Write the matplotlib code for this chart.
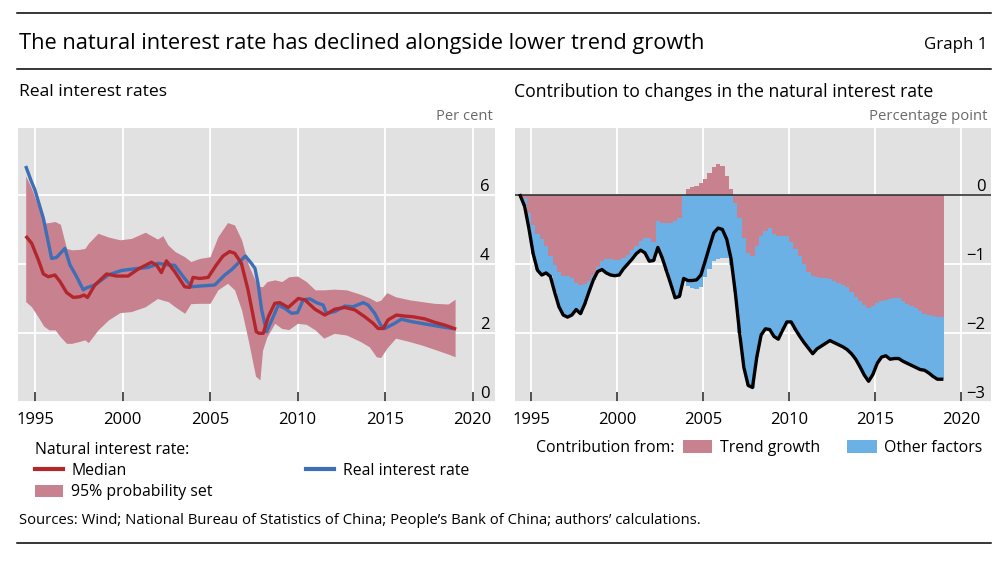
import numpy as np
import pandas as pd
import matplotlib
matplotlib.use("Agg")
import matplotlib.pyplot as plt
from matplotlib.lines import Line2D
from matplotlib.patches import Patch

plt.rcParams['font.family'] = ['Open Sans', 'DejaVu Sans']

# ---------------- Left panel data: real interest rates (per cent) ----------------
real_t = [1994.47, 1994.75, 1995.0, 1995.48, 1995.95, 1996.23, 1996.71, 1997.0, 1997.38,
          1997.76, 1997.95, 1998.42, 1999.18, 1999.94, 2000.7, 2001.46, 2001.75, 2002.03,
          2002.5, 2002.98, 2003.55, 2003.94, 2004.7, 2005.27, 2005.84, 2006.22, 2006.6,
          2007.02, 2007.36, 2007.57, 2007.74, 2007.95, 2008.23, 2008.61, 2008.9, 2009.28,
          2009.66, 2010.0, 2010.32, 2010.7, 2011.08, 2011.46, 2011.65, 2012.13, 2012.7,
          2013.17, 2013.75, 2014.03, 2014.41, 2014.75, 2014.98, 2015.55, 2015.93, 2016.5,
          2017.07, 2017.64, 2018.21, 2018.97]
real_rate = [6.84, 6.45, 6.14, 5.32, 4.16, 4.19, 4.45, 3.97, 3.63,
             3.25, 3.31, 3.39, 3.68, 3.81, 3.86, 3.90, 3.95, 4.02,
             3.98, 3.96, 3.58, 3.34, 3.37, 3.39, 3.68, 3.83, 4.02,
             4.23, 4.02, 3.87, 3.44, 2.67, 2.04, 2.47, 2.81, 2.71,
             2.57, 2.59, 2.96, 2.99, 2.88, 2.81, 2.57, 2.62, 2.78,
             2.76, 2.88, 2.81, 2.57, 2.23, 2.13, 2.28, 2.40, 2.33,
             2.28, 2.23, 2.18, 2.12]

median_t = [1994.47, 1994.81, 1995.19, 1995.48, 1995.76, 1996.14, 1996.43, 1996.81, 1997.19,
            1997.57, 1997.8, 1998.0, 1998.42, 1999.09, 1999.66, 2000.32, 2000.89, 2001.65,
            2001.94, 2002.22, 2002.51, 2002.98, 2003.55, 2003.84, 2004.03, 2004.41, 2004.89,
            2005.36, 2005.74, 2006.12, 2006.41, 2006.79, 2007.17, 2007.64, 2007.8, 2008.04,
            2008.33, 2008.7, 2008.98, 2009.47, 2010.04, 2010.42, 2010.99, 2011.56, 2012.13,
            2012.7, 2013.27, 2013.84, 2014.32, 2014.6, 2014.89, 2015.17, 2015.65, 2016.12,
            2016.6, 2017.26, 2017.83, 2018.4, 2019.06]
median = [4.81, 4.60, 4.12, 3.71, 3.63, 3.68, 3.49, 3.17, 3.03,
          3.05, 3.10, 3.03, 3.39, 3.71, 3.65, 3.65, 3.85, 4.05,
          3.97, 3.75, 4.09, 3.78, 3.34, 3.32, 3.61, 3.58, 3.61,
          3.97, 4.23, 4.36, 4.31, 4.02, 3.25, 2.04, 1.99, 1.99,
          2.47, 2.86, 2.88, 2.74, 3.00, 2.96, 2.69, 2.52, 2.69,
          2.74, 2.67, 2.47, 2.28, 2.13, 2.13, 2.38, 2.52, 2.49,
          2.47, 2.41, 2.31, 2.23, 2.11]

band_t = [1994.47, 1994.8, 1995.2, 1995.5, 1995.8, 1996.15, 1996.45, 1996.8, 1997.1, 1997.5,
          1997.85, 1998.05, 1998.6, 1999.2, 1999.85, 2000.5, 2001.3, 2002.0, 2002.3, 2002.6,
          2003.0, 2003.55, 2003.9, 2004.4, 2005.0, 2005.45, 2006.0, 2006.4, 2006.8, 2007.2,
          2007.6, 2007.85, 2008.0, 2008.25, 2008.7, 2009.1, 2009.5, 2010.0, 2010.5, 2011.0,
          2011.5, 2012.1, 2012.8, 2013.6, 2014.1, 2014.5, 2014.75, 2015.1, 2015.6, 2016.4,
          2017.1, 2017.8, 2018.6, 2019.0]
band_low = [2.91, 2.76, 2.45, 2.20, 2.09, 2.09, 1.89, 1.70, 1.70, 1.75,
            1.80, 1.72, 2.09, 2.38, 2.59, 2.62, 2.76, 3.00, 2.95, 2.91,
            2.76, 2.57, 2.85, 2.86, 2.86, 3.25, 3.44, 3.25, 2.67, 1.75,
            0.75, 0.64, 1.50, 1.89, 2.28, 2.13, 2.10, 2.28, 2.25, 2.09,
            1.85, 1.99, 1.94, 1.75, 1.60, 1.31, 1.29, 1.56, 1.85, 1.75,
            1.65, 1.53, 1.39, 1.31]
band_high = [6.55, 6.20, 5.65, 5.18, 5.20, 5.23, 5.15, 4.45, 4.41, 4.42,
             4.45, 4.60, 4.89, 4.78, 4.70, 4.74, 4.92, 4.72, 4.82, 4.55,
             4.36, 4.21, 4.07, 4.16, 4.21, 4.79, 5.20, 5.13, 4.70, 3.97,
             3.50, 3.35, 3.34, 3.49, 3.54, 3.49, 3.63, 3.65, 3.49, 3.25,
             3.25, 3.27, 3.25, 3.12, 3.02, 2.91, 2.95, 3.17, 3.05, 2.96,
             2.91, 2.86, 2.84, 2.98]

# ---------------- Right panel data: contributions (percentage points), quarterly ----------------
quarters = pd.period_range('1994Q2', '2018Q4', freq='Q')
total_change = [
    -0.01, -0.16, -0.48,                       # 1994 Q2-Q4
    -0.85, -1.09, -1.16, -1.13,                # 1995
    -1.18, -1.41, -1.62, -1.74,                # 1996
    -1.77, -1.74, -1.66, -1.72,                # 1997
    -1.58, -1.40, -1.23, -1.11,                # 1998
    -1.08, -1.13, -1.16, -1.17,                # 1999
    -1.16, -1.07, -1.00, -0.93,                # 2000
    -0.85, -0.80, -0.84, -0.96,                # 2001
    -0.95, -0.76, -0.91, -1.10,                # 2002
    -1.29, -1.49, -1.47, -1.21,                # 2003
    -1.24, -1.24, -1.23, -1.16,                # 2004
    -0.96, -0.75, -0.55, -0.48,                # 2005
    -0.50, -0.64, -0.92, -1.41,                # 2006
    -2.00, -2.50, -2.76, -2.79,                # 2007
    -2.35, -2.03, -1.94, -1.95,                # 2008
    -2.05, -2.09, -1.96, -1.84,                # 2009
    -1.84, -1.95, -2.05, -2.14,                # 2010
    -2.22, -2.30, -2.23, -2.19,                # 2011
    -2.15, -2.11, -2.14, -2.17,                # 2012
    -2.20, -2.24, -2.30, -2.38,                # 2013
    -2.49, -2.61, -2.70, -2.60,                # 2014
    -2.44, -2.35, -2.33, -2.38,                # 2015
    -2.37, -2.37, -2.41, -2.44,                # 2016
    -2.47, -2.50, -2.53, -2.54,                # 2017
    -2.58, -2.63, -2.67, -2.67,                # 2018
]
trend_growth = [
    0.00, -0.05, -0.26,
    -0.44, -0.56, -0.64, -0.74,
    -0.88, -1.01, -1.11, -1.17,
    -1.18, -1.21, -1.27, -1.31,
    -1.29, -1.24, -1.16, -1.05,
    -0.95, -0.93, -0.93, -0.94,
    -0.94, -0.92, -0.87, -0.80,
    -0.74, -0.67, -0.63, -0.63,
    -0.68, -0.38, -0.40, -0.40,
    -0.40, -0.38, -0.33, 0.00,
    0.08, 0.11, 0.13, 0.17,
    0.23, 0.32, 0.41, 0.45,
    0.42, 0.28, 0.09, -0.12,
    -0.34, -0.63, -0.84, -0.88,
    -0.74, -0.60, -0.52, -0.48,
    -0.56, -0.59, -0.59, -0.59,
    -0.68, -0.79, -0.89, -1.00,
    -1.12, -1.17, -1.19, -1.20,
    -1.21, -1.22, -1.25, -1.27,
    -1.30, -1.34, -1.41, -1.48,
    -1.54, -1.60, -1.64, -1.61,
    -1.57, -1.54, -1.52, -1.51,
    -1.49, -1.50, -1.54, -1.58,
    -1.61, -1.64, -1.68, -1.72,
    -1.74, -1.76, -1.77, -1.77,
]

year_ticks = [1995, 2000, 2005, 2010, 2015, 2020]
left_yticks = [0, 2, 4, 6]
right_yticks = [-3, -2, -1, 0]

# ---------------- Styles ----------------
W, H = 1003, 561
BG = '#e1e1e1'
PINK = '#c8818f'
RED = '#b3262c'
BLUE = '#3d6fb7'
LBLUE = '#6cb1e6'
GRAYTXT = '#6a6a6a'
FS = 11.4


def P(x, y):
    return (x / W, 1 - y / H)


fig = plt.figure(figsize=(W / 100, H / 100), dpi=100)

# header / footer rules
for yy in (13, 69, 543):
    fig.add_artist(Line2D([17 / W, 991 / W], [1 - yy / H, 1 - yy / H], color='black', lw=1.1))

fig.text(*P(19, 44), 'The natural interest rate has declined alongside lower trend growth',
         fontsize=15.7, va='center', ha='left')
fig.text(*P(988, 45), 'Graph 1', fontsize=12.2, va='center', ha='right')
fig.text(*P(19, 92), 'Real interest rates', fontsize=12.6, va='center', ha='left')
fig.text(*P(514, 92), 'Contribution to changes in the natural interest rate', fontsize=12.7,
         va='center', ha='left')
fig.text(*P(493, 117), 'Per cent', fontsize=10.6, va='center', ha='right', color=GRAYTXT)
fig.text(*P(988, 117), 'Percentage point', fontsize=10.7, va='center', ha='right', color=GRAYTXT)


def style_axes(ax):
    ax.set_facecolor(BG)
    for s in ax.spines.values():
        s.set_visible(False)
    ax.grid(True, color='white', lw=1.3)
    ax.set_axisbelow(True)
    ax.set_xticks(year_ticks)
    ax.tick_params(axis='x', direction='in', length=7, width=1.1, color='#222222',
                   pad=7, labelsize=12)
    ax.yaxis.tick_right()
    ax.tick_params(axis='y', length=0, pad=-4, labelsize=12)
    for lab in ax.get_yticklabels():
        lab.set_ha('right')
        lab.set_va('bottom')


# ---------------- Left panel ----------------
axL = fig.add_axes([18 / W, 1 - 402 / H, 477 / W, 274 / H])
axL.fill_between(band_t, band_low, band_high, color=PINK, lw=0, zorder=2)
axL.plot(real_t, real_rate, color=BLUE, lw=2.4, zorder=3, solid_capstyle='butt')
axL.plot(median_t, median, color=RED, lw=2.4, zorder=4, solid_capstyle='butt')
axL.set_xlim(1994.03, 2021.28)
axL.set_ylim(0, 7.94)
axL.set_yticks(left_yticks)
style_axes(axL)

# ---------------- Right panel ----------------
axR = fig.add_axes([515 / W, 1 - 402 / H, 476 / W, 274 / H])
qt = np.array([q.start_time.year + (q.quarter - 0.5) / 4 for q in quarters])
trend_arr = np.array(trend_growth)
total_arr = np.array(total_change)
other_arr = total_arr - trend_arr
other_bottom = np.where(other_arr < 0, np.minimum(trend_arr, 0), np.maximum(trend_arr, 0))
axR.bar(qt, trend_arr, width=0.25, color=PINK, lw=0, antialiased=False, zorder=2)
axR.bar(qt, other_arr, bottom=other_bottom, width=0.25, color=LBLUE, lw=0,
        antialiased=False, zorder=2)
axR.axhline(0, color='#333333', lw=1.2, zorder=3)
axR.plot(qt, total_arr, color='black', lw=2.4, zorder=4)
axR.set_xlim(1994.07, 2021.74)
axR.set_ylim(-3, 0.97)
axR.set_yticks(right_yticks)
style_axes(axR)

# ---------------- Legends ----------------
h_med = Line2D([], [], color=RED, lw=3)
h_band = Patch(facecolor=PINK, edgecolor='none')
h_real = Line2D([], [], color=BLUE, lw=3)
h_blank = Patch(facecolor='none', edgecolor='none')
legL = fig.legend(handles=[h_med, h_band, h_real, h_blank],
                  labels=['Median', '95% probability set', 'Real interest rate', ''],
                  ncol=2, title='Natural interest rate:', alignment='left', frameon=False,
                  loc='upper left', bbox_to_anchor=P(35, 442), borderpad=0, borderaxespad=0,
                  fontsize=FS, title_fontsize=FS, handlelength=1.75, handleheight=0.8,
                  handletextpad=0.55, labelspacing=0.32, columnspacing=5.9)

fig.text(*P(536, 448), 'Contribution from:', fontsize=FS, va='center', ha='left')
legR = fig.legend(handles=[Patch(facecolor=PINK, edgecolor='none'),
                           Patch(facecolor=LBLUE, edgecolor='none')],
                  labels=['Trend growth', 'Other factors'], ncol=2, frameon=False,
                  loc='center left', bbox_to_anchor=P(683, 448), borderpad=0, borderaxespad=0,
                  fontsize=FS, handlelength=1.85, handleheight=0.9, handletextpad=0.5,
                  columnspacing=1.7)

fig.text(*P(19, 520),
         'Sources: Wind; National Bureau of Statistics of China; People\u2019s Bank of China; authors\u2019 calculations.',
         fontsize=10.7, va='center', ha='left')

fig.savefig('out.png', dpi=100)
